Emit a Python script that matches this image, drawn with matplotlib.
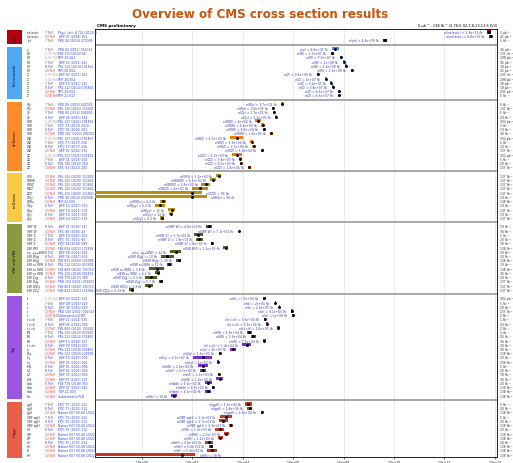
import numpy as np
import matplotlib.pyplot as plt
from matplotlib.patches import Rectangle
from matplotlib.transforms import blended_transform_factory

# ---- data ----
group_names = ["QCD", "Electroweak", "di-Boson", "tri-Boson", "VBF and VBS", "Top", "Higgs"]
group_colors = ["#b3000f", "#4ea8f5", "#fb8c28", "#f8c941", "#8a9b3e", "#9d55e6", "#ea5f48"]
band_colors = ["#8c0010", "#3d8fe0", "#f57c00", "#b8900f", "#4f5f22", "#7b2fd0", "#c8381e"]

qcd_proc = ["inelastic", "inelastic", "jet"]
qcd_sqrts = ["7", "13", "7"]
qcd_ref = ["Phys. Lett. B 722 (2013) 5", "JHEP 07 (2018) 161", "PRD 90 (2014) 072006"]
qcd_xsec = [5.9e13, 6.8e13, 4.4e9]
qcd_unc = [0.08, 0.05, 0.08]
qcd_lumi = ["3 μb⁻¹", "41 μb⁻¹", "5 fb⁻¹"]

ew_proc = ["γ", "W", "W", "W", "W", "W", "Z", "Z", "Z", "Z", "Z", "Z"]
ew_sqrts = ["7", "2.76", "5.02", "7", "8", "13", "2.76", "5.02", "7", "8", "13", "13.6"]
ew_ref = ["PRD 84 (2011) 052011", "PLB 715 (2012) 66", "SMP-20-004", "JHEP 10 (2011) 132",
          "PRL 112 (2014) 191802", "SMP-20-004", "JHEP 03 (2015) 022", "SMP-20-004",
          "JHEP 10 (2011) 132", "PRL 112 (2014) 191802", "SMP-20-004", "SMP-22-017"]
ew_xsec = [4.6e7, 3.5e7, 7.9e7, 1.0e8, 1.25e8, 2.1e8, 9.6e6, 2.0e7, 3.2e7, 3.8e7, 6.6e7, 6.6e7]
ew_unc = [0.14, 0.06, 0.04, 0.04, 0.04, 0.04, 0.05, 0.04, 0.04, 0.04, 0.04, 0.04]
ew_lumi = ["36 pb⁻¹", "231 nb⁻¹", "298 pb⁻¹", "36 pb⁻¹", "18 pb⁻¹", "43 pb⁻¹",
           "231 nb⁻¹", "298 pb⁻¹", "36 pb⁻¹", "18 pb⁻¹", "201 pb⁻¹", "5 fb⁻¹"]

vv_proc = ["Wγ", "Wγ", "Zγ", "Zγ", "WW", "WW", "WW", "WW",
           "WZ", "WZ", "WZ", "WZ", "ZZ", "ZZ", "ZZ", "ZZ"]
vv_sqrts = ["7", "13", "7", "8", "5.02", "7", "8", "13",
            "5.02", "7", "8", "13", "5.02", "7", "8", "13"]
vv_ref = ["PRD 89 (2014) 092005", "PRL 126 (2021) 252002", "PRD 89 (2014) 092005", "JHEP 04 (2015) 164",
          "PRL 127 (2021) 191801", "EPJC 73 (2013) 2610", "EPJC 76 (2016) 401", "PRD 102 (2020) 092001",
          "PRL 127 (2021) 191801", "EPJC 77 (2017) 236", "EPJC 77 (2017) 236", "JHEP 07 (2022) 032",
          "PRL 127 (2021) 191801", "JHEP 01 (2013) 063", "PLB 740 (2015) 250", "EPJC 81 (2021) 200"]
vv_xsec = [3.7e5, 1.6e5, 1.7e5, 2.1e5, 4.0e4, 6.2e4, 6.8e4, 1.35e5,
           5.7e3, 2.3e4, 2.7e4, 5.9e4, 5.7e3, 7.8e3, 8.5e3, 1.8e4]
vv_unc = [0.07, 0.05, 0.05, 0.05, 0.1, 0.06, 0.05, 0.05,
          0.26, 0.06, 0.05, 0.05, 0.2, 0.06, 0.05, 0.05]
vv_lumi = ["5 fb⁻¹", "137 fb⁻¹", "5 fb⁻¹", "20 fb⁻¹", "302 pb⁻¹", "5 fb⁻¹", "19 fb⁻¹", "36 fb⁻¹",
           "302 pb⁻¹", "5 fb⁻¹", "19 fb⁻¹", "137 fb⁻¹", "302 pb⁻¹", "5 fb⁻¹", "20 fb⁻¹", "137 fb⁻¹"]

vvv_proc = ["VVV", "WWW", "WWZ", "WZZ", "ZZZ", "WVγ", "WWγ", "Wγγ", "Wγγ", "Zγγ", "Zγγ"]
vvv_sqrts = ["13", "13", "13", "13", "13", "8", "13", "8", "13", "8", "13"]
vvv_ref = ["PRL 125 (2020) 151802", "PRL 125 (2020) 151802", "PRL 125 (2020) 151802",
           "PRL 125 (2020) 151802", "PRL 125 (2020) 151802", "PRD 90 (2014) 032008",
           "SMP-22-006", "JHEP 10 (2017) 072", "JHEP 10 (2021) 174", "JHEP 10 (2017) 072",
           "JHEP 10 (2021) 174"]
vvv_xsec = [1.1e3, 6.5e2, 3.4e2, 2.0e2, 96, 96, 6.6, 5.2, 15, 14, 6.2]
vvv_unc = [0.1, 0.13, 0.18, 0.31, 0.0, 0.0, 0.11, 0.2, 0.13, 0.08, 0.07]
vvv_limit = [None, None, None, None, 2.4e2, 3.8e2, None, None, None, None, None]
vvv_lumi = ["137 fb⁻¹", "137 fb⁻¹", "137 fb⁻¹", "137 fb⁻¹", "137 fb⁻¹", "19 fb⁻¹",
            "138 fb⁻¹", "19 fb⁻¹", "137 fb⁻¹", "19 fb⁻¹", "137 fb⁻¹"]

vbs_proc = ["VBF W", "VBF W", "VBF Z", "VBF Z", "VBF Z", "EW WV", "ex. γγ→WW", "EW Wγjj",
            "EW Wγjj", "EW ss WW", "EW ss WW", "EW ss WW", "EW Zγjj", "EW Zγjj", "EW WZjj", "EW ZZjj"]
vbs_sqrts = ["8", "13", "7", "8", "13", "13", "8", "8", "13", "8", "13", "13", "8", "13", "13", "13"]
vbs_ref = ["JHEP 11 (2016) 147", "EPJC 80 (2020) 43", "JHEP 10 (2013) 101", "EPJC 75 (2015) 66",
           "EPJC 78 (2018) 589", "PLB 834 (2022) 137438", "JHEP 08 (2016) 119", "JHEP 06 (2017) 106",
           "PLB 811 (2020) 135988", "PRL 114 (2015) 051801", "PLB 809 (2020) 135710",
           "PRL 120 (2018) 081801", "PLB 770 (2017) 380", "PRD 104 (2021) 072001",
           "PLB 809 (2020) 135710", "PLB 812 (2021) 135992"]
vbs_xsec = [4.6e2, 7.1e3, 1.7e2, 1.9e2, 6.0e2, 2.1e3, 22, 10, 28, 12, 3.8, 4.1, 2.3, 5.7, 1.9, 0.39]
vbs_unc = [0.13, 0.0, 0.17, 0.13, 0.05, 0.1, 0.22, 0.25, 0.1, 0.09, 0.3, 0.11, 0.23, 0.08, 0.15, 0.1]
vbs_lumi = ["19 fb⁻¹", "36 fb⁻¹", "5 fb⁻¹", "20 fb⁻¹", "36 fb⁻¹", "138 fb⁻¹", "20 fb⁻¹", "20 fb⁻¹",
            "138 fb⁻¹", "19 fb⁻¹", "138 fb⁻¹", "36 fb⁻¹", "20 fb⁻¹", "137 fb⁻¹", "137 fb⁻¹", "137 fb⁻¹"]

top_proc = ["tt", "tt", "tt", "tt", "tt", "t t-ch", "t t-ch", "t t-ch", "tW", "tW", "tW",
            "t s-ch", "tγ", "tZq", "ttγ", "ttγ", "ttW", "ttZ", "ttZ", "ttW", "ttbb", "ttbb",
            "ttbb", "tttt"]
top_sqrts = ["5.02", "7", "8", "13", "13.6", "7", "8", "13", "7", "8", "13", "8", "13", "13",
             "8", "13", "8", "8", "13", "13", "8", "13", "13", "13"]
top_ref = ["JHEP 03 (2022) 115", "JHEP 08 (2016) 029", "JHEP 08 (2016) 029", "PRD 104 (2021) 092013",
           "Submitted to JHEP", "JHEP 12 (2012) 035", "JHEP 06 (2014) 090", "PLB 800 (2020) 135042",
           "PRL 110 (2013) 022003", "PRL 112 (2014) 231802", "JHEP 10 (2018) 117",
           "JHEP 09 (2016) 027", "PRL 121 (2018) 221802", "PRL 122 (2019) 132003",
           "JHEP 10 (2017) 006", "JHEP 05 (2022) 091", "JHEP 01 (2016) 096", "JHEP 01 (2016) 096",
           "JHEP 03 (2020) 056", "JHEP 07 (2023) 219", "PLB 776 (2018) 355", "JHEP 07 (2020) 125",
           "TOP-22-009", "Submitted to PLB"]
top_xsec = [7.1e4, 1.95e5, 2.8e5, 9.1e5, 1.0e6, 7.6e4, 9.1e4, 2.6e5, 1.8e4, 2.6e4, 7.1e4, 1.4e4,
            4.0e3, 1.2e3, 2.5e2, 1.0e3, 2.6e2, 2.7e2, 1.1e3, 1.2e3, 4.3e2, 6.8e2, 4.1e2, 19]
top_unc = [0.05, 0.03, 0.03, 0.03, 0.03, 0.05, 0.05, 0.05, 0.11, 0.11, 0.05, 0.17,
           0.12, 0.03, 0.38, 0.04, 0.21, 0.12, 0.04, 0.13, 0.13, 0.04, 0.12, 0.12]
top_lumi = ["302 pb⁻¹", "5 fb⁻¹", "20 fb⁻¹", "137 fb⁻¹", "2 fb⁻¹", "1 fb⁻¹", "20 fb⁻¹", "2 fb⁻¹",
            "5 fb⁻¹", "20 fb⁻¹", "36 fb⁻¹", "20 fb⁻¹", "36 fb⁻¹", "138 fb⁻¹", "20 fb⁻¹", "138 fb⁻¹",
            "5 fb⁻¹", "20 fb⁻¹", "78 fb⁻¹", "36 fb⁻¹", "20 fb⁻¹", "138 fb⁻¹", "138 fb⁻¹", "138 fb⁻¹"]

h_proc = ["ggH", "ggH", "ggH", "VBF qqH", "VBF qqH", "VBF qqH", "VH", "WH", "ZH",
          "ttH", "ttH", "tH", "HH"]
h_sqrts = ["7", "8", "13", "7", "8", "13", "8", "13", "13", "8", "13", "13", "13"]
h_ref = ["EPJC 75 (2015) 212", "EPJC 75 (2015) 212", "Nature 607 60-68 (2022)",
         "EPJC 75 (2015) 212", "EPJC 75 (2015) 212", "Nature 607 60-68 (2022)",
         "EPJC 75 (2015) 212", "Nature 607 60-68 (2022)", "Nature 607 60-68 (2022)",
         "EPJC 75 (2015) 212", "Nature 607 60-68 (2022)", "Nature 607 60-68 (2022)",
         "Nature 607 60-68 (2022)"]
h_xsec = [1.65e4, 1.85e4, 5.6e4, 2.1e3, 1.7e3, 3.3e3, 1.2e3, 2.2e3, 1.25e3, 4.6e2, 5.4e2, 5.9e2, 38]
h_unc = [0.15, 0.11, 0.03, 0.24, 0.17, 0.07, 0.19, 0.09, 0.1, 0.15, 0.08, 0.19, 0.0]
h_limit = [None] * 12 + [1.3e2]
h_lumi = ["5 fb⁻¹", "20 fb⁻¹", "138 fb⁻¹", "5 fb⁻¹", "20 fb⁻¹", "138 fb⁻¹", "20 fb⁻¹",
          "138 fb⁻¹", "138 fb⁻¹", "20 fb⁻¹", "138 fb⁻¹", "138 fb⁻¹", "138 fb⁻¹"]

groups = [
    (qcd_proc, qcd_sqrts, qcd_ref, qcd_xsec, qcd_unc, [None] * 3, qcd_lumi),
    (ew_proc, ew_sqrts, ew_ref, ew_xsec, ew_unc, [None] * 12, ew_lumi),
    (vv_proc, vv_sqrts, vv_ref, vv_xsec, vv_unc, [None] * 16, vv_lumi),
    (vvv_proc, vvv_sqrts, vvv_ref, vvv_xsec, vvv_unc, vvv_limit, vvv_lumi),
    (vbs_proc, vbs_sqrts, vbs_ref, vbs_xsec, vbs_unc, [None] * 16, vbs_lumi),
    (top_proc, top_sqrts, top_ref, top_xsec, top_unc, [None] * 24, top_lumi),
    (h_proc, h_sqrts, h_ref, h_xsec, h_unc, h_limit, h_lumi),
]

sqrts_color = {"2.76": "#9a9a9a", "5.02": "#9a9a9a", "7": "#555555", "8": "#3344cc",
               "13": "#e02020", "13.6": "#e02020"}


def fmt(v):
    if v >= 100:
        m, e = f"{v:.1e}".split("e")
        if m.endswith(".0"):
            m = m[:-2]
        return f"{m}e{e}"
    return f"{v:.2g}"


W, H = 513, 464
fig = plt.figure(figsize=(W / 100, H / 100), dpi=100)
ax = fig.add_axes([95 / W, 1 - 458 / H, (497 - 95) / W, (458 - 30) / H])
ax.set_xscale("log")
xmin = 10 ** -1.87
ax.set_xlim(xmin, 10 ** 14.09)
ticks = 10.0 ** np.arange(0, 15, 2)
ax.set_xticks(ticks)
ax.set_xticklabels([f"{t:.1e}" for t in ticks], fontsize=2.2)
ax.minorticks_off()
ax.tick_params(axis="x", length=1.5, width=0.4, pad=1)
ax.set_yticks([])
ax.grid(axis="x", color="#e2e2e2", lw=0.5)
ax.set_axisbelow(True)
for s in ax.spines.values():
    s.set_linewidth(0.6)

trans = blended_transform_factory(fig.transFigure, ax.transData)
small = 2.2

slot = 0
for gi, (proc, sq, ref, xs, unc, lim, lumi) in enumerate(groups):
    first = slot
    for i in range(len(proc)):
        y = slot
        v = xs[i]
        # left text columns and luminosity column
        ax.text(27 / W, y, proc[i], transform=trans, fontsize=small, color="#333333", va="center")
        ax.text(45 / W, y, sq[i] + " TeV", transform=trans, fontsize=small,
                color=sqrts_color[sq[i]], va="center")
        ax.text(58 / W, y, ref[i], transform=trans, fontsize=small, color="#3344cc", va="center")
        ax.text(500 / W, y, lumi[i], transform=trans, fontsize=small, color="#333333",
                va="center", clip_on=False)
        label = f"σ({proc[i]}) = {fmt(v)} fb"
        if lim[i] is not None:
            # upper-limit style bar from the left edge
            ax.barh(y, lim[i] - xmin, left=xmin, height=0.75, color=band_colors[gi], zorder=3)
            ax.plot(v, y, "o", ms=1.1, color="black", zorder=4)
            ax.annotate(label, xy=(lim[i], y), xytext=(3, 0), textcoords="offset points",
                        ha="left", va="center", fontsize=small, color="#3a3aaa")
        else:
            lo = v * 10 ** -unc[i]
            hi = v * 10 ** unc[i]
            if unc[i] > 0:
                ax.add_patch(Rectangle((lo, y - 0.36), hi - lo, 0.72, facecolor=band_colors[gi],
                                       edgecolor="none", zorder=3))
            ax.errorbar(v, y, xerr=[[v * 0.06], [v * 0.06]], fmt="o", ms=1.1, color="black",
                        elinewidth=0.5, capsize=0, zorder=4)
            ax.annotate(label, xy=(min(lo, v * 0.85), y), xytext=(-3, 0),
                        textcoords="offset points", ha="right", va="center",
                        fontsize=small, color="#3a3aaa")
        slot += 1
    last = slot - 1
    # group box on the left
    ax.add_patch(Rectangle((7 / W, first - 0.55), 15 / W, last - first + 1.4,
                           transform=trans, facecolor=group_colors[gi], edgecolor="none",
                           clip_on=False))
    ax.text(14.5 / W, (first + last) / 2 + 0.4, group_names[gi], transform=trans, rotation=90,
            fontsize=2.6, ha="center", va="center", color="#111111")
    if gi < len(groups) - 1:
        ax.axhline(slot, color="#a8a8a8", lw=1.4, zorder=2)
        slot += 1

ax.set_ylim(slot - 1 + 0.54, -0.71)

fig.text(260 / W, 1 - 15 / H, "Overview of CMS cross section results", ha="center",
         va="center", fontsize=8.6, fontweight="bold", color="#c8550a")
ax.text(0.005, 1.004, "CMS preliminary", transform=ax.transAxes, fontsize=3,
        fontweight="bold", va="bottom", ha="left")
ax.text(1.0, 1.004, "5 μb⁻¹ - 138 fb⁻¹ (2.76,5.02,7,8,13,13.6 TeV)", transform=ax.transAxes,
        fontsize=2.6, va="bottom", ha="right")

fig.savefig("out.png", dpi=100)
